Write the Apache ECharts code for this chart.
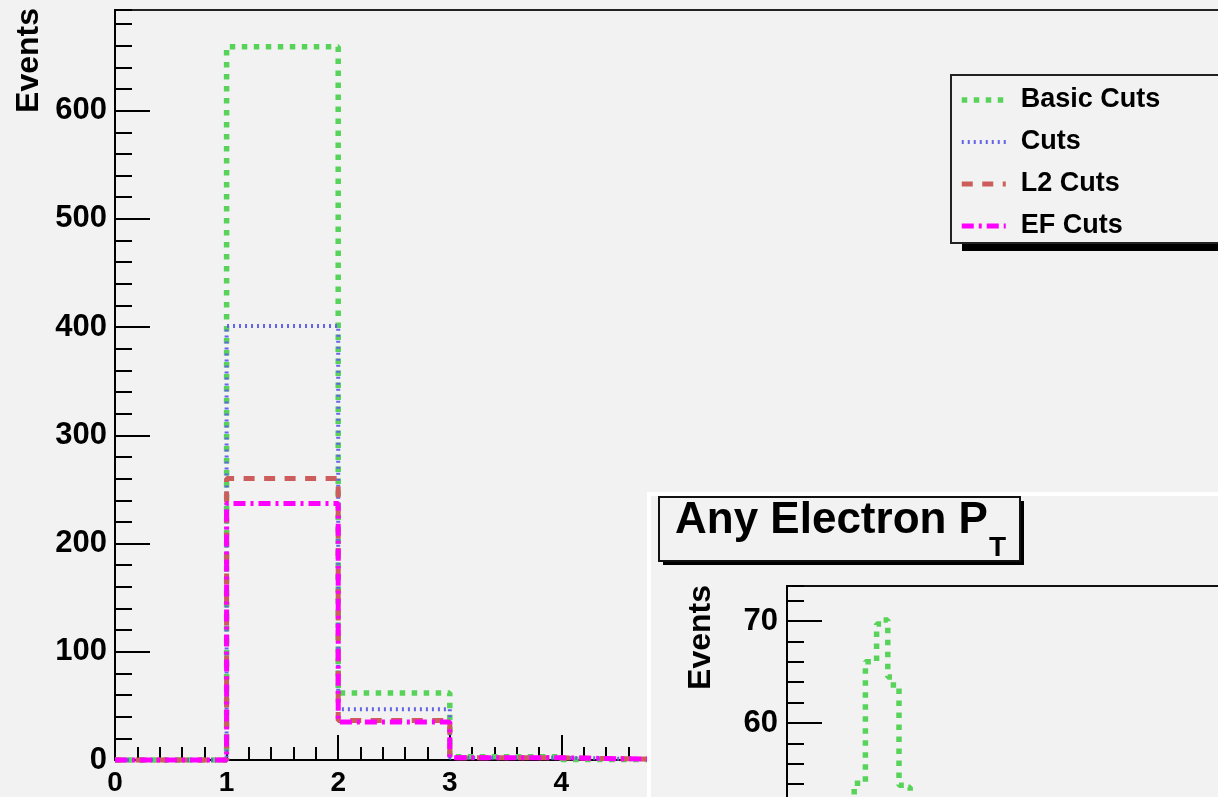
<!DOCTYPE html>
<html><head><meta charset="utf-8">
<script src="https://cdn.jsdelivr.net/npm/echarts@6/dist/echarts.min.js"></script>
<style>
html,body{margin:0;padding:0;overflow:hidden;background:#f2f2f2;width:1218px;height:797px}
#c{width:1400px;height:1000px}
</style></head>
<body><div id="c"></div>
<script>
// ---- data ----
const binEdges = [0, 1, 2, 3, 4, 5, 6, 7, 8, 9, 10];
const basicCuts = [0, 659, 62, 3, 0.5, 0, 0, 0, 0, 0];
const cuts      = [0, 401, 47, 2, 0.5, 0, 0, 0, 0, 0];
const l2Cuts    = [0, 260, 36.5, 2, 0.5, 0, 0, 0, 0, 0];
const efCuts    = [0, 237, 35, 2, 0.5, 0, 0, 0, 0, 0];
const seriesNames = ['Basic Cuts', 'Cuts', 'L2 Cuts', 'EF Cuts'];
const yTitle = 'Events';
const insetTitle = 'Any Electron P';
const insetTitleSub = 'T';
const insetEdges = [11, 12, 13, 14, 15, 16, 17, 18, 19, 20, 21, 22, 23];
const insetBasic = [50, 54.1, 54.1, 66, 66, 69.7, 70.1, 64.5, 63.4, 53.9, 53.7, 50];

function hist(edges, vals) {
  const pts = vals.map((v, i) => [edges[i], v]);
  pts.push([edges[vals.length], vals[vals.length - 1]]);
  return pts;
}

const FONT = 'Liberation Sans';
const lbl = {fontFamily: FONT, fontWeight: 'bold', fontSize: 31, color: '#000'};
const xlbl = {fontFamily: FONT, fontWeight: 'bold', fontSize: 28, color: '#000'};
const blk = {color: '#000', width: 2};

const styles = [
  {color: '#58d35a', width: 5.5, type: [5.5, 6.5]},
  {color: '#6464e6', width: 4, type: [2, 4]},
  {color: '#cd5c5c', width: 5, type: [11, 9.5]},
  {color: '#ff00ff', width: 5, type: [12, 5, 3, 5]}
];
const mainData = [basicCuts, cuts, l2Cuts, efCuts];

const chart = echarts.init(document.getElementById('c'), null, {renderer: 'canvas'});
chart.setOption({
  animation: false,
  backgroundColor: '#f2f2f2',
  grid: [
    {left: 115, top: 10, width: 1116, height: 750, show: true, borderColor: '#222', borderWidth: 2,
     backgroundColor: 'transparent', outerBoundsMode: 'none', containLabel: false},
    {left: 787, top: 586, width: 560, height: 341, show: true, borderColor: '#111', borderWidth: 2,
     backgroundColor: 'transparent', z: 60, outerBoundsMode: 'none', containLabel: false}
  ],
  xAxis: [
    {type: 'value', gridIndex: 0, min: 0, max: 10, interval: 1,
     axisLine: {show: true, lineStyle: blk},
     axisTick: {show: true, inside: true, length: 25, lineStyle: blk},
     minorTick: {show: true, splitNumber: 5, length: 13, lineStyle: blk},
     splitLine: {show: false}, minorSplitLine: {show: false},
     axisLabel: Object.assign({margin: 9}, xlbl)},
    {type: 'value', gridIndex: 1, min: 0, max: 100, interval: 10, z: 60,
     axisLine: {show: true, lineStyle: blk},
     axisTick: {show: true, inside: true, length: 25, lineStyle: blk},
     splitLine: {show: false},
     axisLabel: Object.assign({margin: 9}, xlbl)}
  ],
  yAxis: [
    {type: 'value', gridIndex: 0, position: 'left', min: 0, max: 693, interval: 100,
     axisLine: {show: true, lineStyle: blk},
     axisTick: {show: true, inside: true, length: 35, lineStyle: blk},
     splitLine: {show: false},
     axisLabel: Object.assign({margin: 8, showMaxLabel: false}, lbl)},
    {type: 'value', gridIndex: 0, position: 'left', offset: 0, min: 0, max: 693, interval: 20,
     axisLine: {show: false},
     axisTick: {show: true, inside: true, length: 17, lineStyle: blk},
     splitLine: {show: false}, axisLabel: {show: false}},
    {type: 'value', gridIndex: 1, position: 'left', min: 40, max: 73.43, interval: 10, z: 60,
     axisLine: {show: true, lineStyle: blk},
     axisTick: {show: true, inside: true, length: 35, lineStyle: blk},
     splitLine: {show: false},
     axisLabel: Object.assign({margin: 9, showMaxLabel: false}, lbl)},
    {type: 'value', gridIndex: 1, position: 'left', offset: 0, min: 40, max: 73.43, interval: 2, z: 60,
     axisLine: {show: false},
     axisTick: {show: true, inside: true, length: 17, lineStyle: blk},
     splitLine: {show: false}, axisLabel: {show: false}}
  ],
  legend: {
    data: seriesNames, orient: 'vertical', left: 951, top: 75, z: 4,
    padding: [10, 100, 2, 8], itemWidth: 44, itemHeight: 30, itemGap: 12,
    backgroundColor: '#f2f2f2', borderColor: '#222', borderWidth: 2, borderRadius: 0,
    selectedMode: false,
    itemStyle: {opacity: 0},
    lineStyle: {width: 'inherit', type: 'inherit', color: 'inherit', cap: 'butt'},
    textStyle: {fontFamily: FONT, fontWeight: 'bold', fontSize: 27, color: '#000', lineHeight: 30,
                padding: [0, 0, 0, 10]}
  },
  graphic: [
    {type: 'rect', z: 3, shape: {x: 962, y: 83, width: 400, height: 168},
     style: {fill: '#000'}},
    {type: 'text', x: 29, y: 8, rotation: Math.PI / 2, z: 5,
     style: {text: yTitle, fontFamily: FONT, fontWeight: 'bold', fontSize: 32, fill: '#000',
             align: 'right', verticalAlign: 'middle'}},
    {type: 'rect', z: 50, shape: {x: 649, y: 494, width: 800, height: 600},
     style: {fill: '#f2f2f2', stroke: '#ffffff', lineWidth: 4}},
    {type: 'rect', z: 69, shape: {x: 663, y: 501, width: 361, height: 64},
     style: {fill: '#000'}},
    {type: 'rect', z: 70, shape: {x: 659, y: 497, width: 361, height: 64},
     style: {fill: '#f2f2f2', stroke: '#111', lineWidth: 2}},
    {type: 'text', x: 675, y: 521, z: 71,
     style: {text: insetTitle, fontFamily: FONT, fontWeight: 'bold', fontSize: 44, fill: '#000',
             align: 'left', verticalAlign: 'middle'}},
    {type: 'text', x: 989, y: 548, z: 71,
     style: {text: insetTitleSub, fontFamily: FONT, fontWeight: 'bold', fontSize: 28, fill: '#000',
             align: 'left', verticalAlign: 'middle'}},
    {type: 'text', x: 701, y: 585, rotation: Math.PI / 2, z: 61,
     style: {text: yTitle, fontFamily: FONT, fontWeight: 'bold', fontSize: 32, fill: '#000',
             align: 'right', verticalAlign: 'middle'}}
  ],
  series: seriesNames.map((n, i) => ({
    name: n, type: 'line', step: 'end', symbol: 'none', clip: false,
    xAxisIndex: 0, yAxisIndex: 0,
    lineStyle: {color: styles[i].color, width: styles[i].width, type: styles[i].type, cap: 'butt'},
    itemStyle: {color: styles[i].color},
    data: hist(binEdges, mainData[i])
  })).concat([{
    name: 'Basic Cuts (P_T)', type: 'line', step: 'end', symbol: 'none', clip: false, z: 62,
    xAxisIndex: 1, yAxisIndex: 2,
    lineStyle: {color: styles[0].color, width: styles[0].width, type: styles[0].type, cap: 'butt'},
    itemStyle: {color: styles[0].color},
    data: hist(insetEdges, insetBasic)
  }])
});
</script>
</body></html>
